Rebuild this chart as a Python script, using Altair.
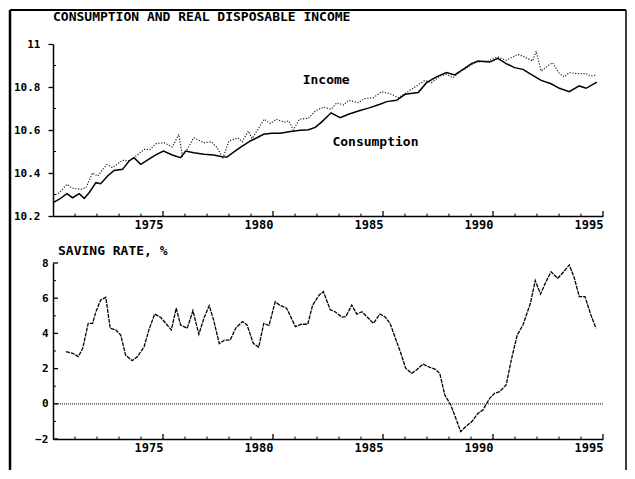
import altair as alt
import pandas as pd

# ---------------- data ----------------
cons_year = [1970.0, 1970.29, 1970.63, 1970.89, 1971.19, 1971.42, 1971.64, 1971.95, 1972.17, 1972.48,
             1972.78, 1973.16, 1973.46, 1973.68, 1973.99, 1974.36, 1974.67, 1975.02, 1975.42, 1975.8,
             1976.03, 1976.4, 1976.86, 1977.3, 1977.69, 1977.91, 1978.21, 1978.55, 1978.97, 1979.27,
             1979.57, 1979.95, 1980.33, 1980.8, 1981.24, 1981.61, 1981.92, 1982.22, 1982.64, 1983.05,
             1983.43, 1983.88, 1984.41, 1984.86, 1985.17, 1985.62, 1986.0, 1986.6, 1986.98, 1987.43,
             1987.88, 1988.26, 1988.64, 1989.02, 1989.32, 1989.85, 1990.22, 1990.6, 1990.98, 1991.36,
             1991.73, 1992.19, 1992.64, 1993.02, 1993.47, 1993.92, 1994.23, 1994.72]
cons_val = [10.262, 10.278, 10.304, 10.285, 10.304, 10.282, 10.308, 10.355, 10.350, 10.386,
            10.412, 10.417, 10.456, 10.471, 10.440, 10.464, 10.484, 10.502, 10.484, 10.471,
            10.502, 10.494, 10.487, 10.484, 10.476, 10.474, 10.497, 10.522, 10.549, 10.564,
            10.580, 10.585, 10.585, 10.593, 10.599, 10.601, 10.612, 10.638, 10.680, 10.657,
            10.673, 10.688, 10.704, 10.720, 10.732, 10.738, 10.766, 10.774, 10.820, 10.847,
            10.867, 10.856, 10.882, 10.909, 10.921, 10.916, 10.933, 10.909, 10.890, 10.882,
            10.859, 10.831, 10.815, 10.794, 10.778, 10.805, 10.794, 10.823]

inc_year = [1970.0, 1970.29, 1970.63, 1970.89, 1971.27, 1971.5, 1971.8, 1972.03, 1972.45, 1972.71,
            1973.16, 1973.42, 1973.68, 1974.14, 1974.4, 1974.67, 1975.05, 1975.42, 1975.72, 1975.88,
            1976.1, 1976.4, 1976.86, 1977.2, 1977.46, 1977.72, 1978.0, 1978.4, 1978.6, 1978.88,
            1979.05, 1979.6, 1979.88, 1980.15, 1980.5, 1980.72, 1980.92, 1981.2, 1981.61, 1981.92,
            1982.3, 1982.64, 1982.9, 1983.2, 1983.43, 1983.88, 1984.15, 1984.56, 1984.94, 1985.32,
            1985.7, 1986.07, 1986.45, 1986.9, 1987.2, 1987.58, 1987.88, 1988.18, 1988.56, 1988.94,
            1989.24, 1989.77, 1990.22, 1990.6, 1991.13, 1991.43, 1991.8, 1991.96, 1992.19, 1992.49,
            1992.71, 1993.02, 1993.24, 1993.47, 1993.85, 1994.23, 1994.45, 1994.72]
inc_val = [10.293, 10.308, 10.347, 10.329, 10.324, 10.332, 10.401, 10.386, 10.440, 10.425,
           10.459, 10.456, 10.471, 10.510, 10.509, 10.536, 10.541, 10.521, 10.580, 10.479,
           10.510, 10.564, 10.541, 10.545, 10.518, 10.468, 10.549, 10.564, 10.545, 10.595,
           10.560, 10.650, 10.630, 10.650, 10.636, 10.642, 10.600, 10.650, 10.655, 10.688,
           10.707, 10.696, 10.727, 10.716, 10.738, 10.727, 10.746, 10.750, 10.778, 10.769,
           10.750, 10.774, 10.800, 10.831, 10.820, 10.851, 10.859, 10.843, 10.874, 10.898,
           10.916, 10.921, 10.940, 10.924, 10.952, 10.940, 10.921, 10.967, 10.874, 10.898,
           10.913, 10.862, 10.847, 10.867, 10.862, 10.862, 10.851, 10.856]

save_year = [1970.59, 1970.89, 1971.15, 1971.35, 1971.6, 1971.8, 1971.95, 1972.17, 1972.4, 1972.6,
             1972.85, 1973.08, 1973.3, 1973.6, 1973.84, 1974.14, 1974.36, 1974.62, 1974.9, 1975.38,
             1975.6, 1975.8, 1976.1, 1976.36, 1976.63, 1976.86, 1977.1, 1977.3, 1977.56, 1977.79,
             1978.05, 1978.32, 1978.62, 1978.82, 1979.1, 1979.35, 1979.58, 1979.82, 1980.1, 1980.3,
             1980.62, 1981.02, 1981.28, 1981.58, 1981.8, 1982.1, 1982.29, 1982.6, 1982.82, 1983.13,
             1983.31, 1983.58, 1983.81, 1984.04, 1984.34, 1984.56, 1984.86, 1985.09, 1985.32, 1985.54,
             1985.81, 1986.03, 1986.3, 1986.52, 1986.82, 1987.13, 1987.38, 1987.58, 1987.81, 1988.08,
             1988.34, 1988.53, 1988.79, 1989.04, 1989.32, 1989.54, 1989.85, 1990.07, 1990.3, 1990.6,
             1990.83, 1991.1, 1991.36, 1991.7, 1991.92, 1992.16, 1992.41, 1992.64, 1992.94, 1993.21,
             1993.47, 1993.7, 1993.92, 1994.18, 1994.45, 1994.68]
save_val = [2.96, 2.87, 2.68, 3.15, 4.57, 4.57, 5.23, 5.90, 6.05, 4.29,
            4.20, 3.90, 2.77, 2.45, 2.68, 3.24, 4.20, 5.10, 4.90, 4.20,
            5.43, 4.48, 4.29, 5.29, 3.95, 4.86, 5.58, 4.76, 3.42, 3.62,
            3.62, 4.33, 4.67, 4.48, 3.44, 3.22, 4.57, 4.45, 5.80, 5.61,
            5.43, 4.38, 4.52, 4.52, 5.60, 6.18, 6.37, 5.35, 5.23, 4.93,
            4.95, 5.61, 5.10, 5.23, 4.86, 4.57, 5.10, 4.95, 4.57, 3.81,
            2.87, 2.02, 1.73, 1.92, 2.26, 2.07, 1.96, 1.73, 0.50, -0.07,
            -0.92, -1.58, -1.26, -1.01, -0.54, -0.35, 0.31, 0.60, 0.69, 1.07,
            2.49, 3.90, 4.48, 5.71, 7.00, 6.24, 6.94, 7.50, 7.13, 7.50,
            7.89, 7.13, 6.09, 6.09, 5.05, 4.29]

x_labels = [1975, 1980, 1985, 1990, 1995]
x_minor = [y for y in range(1971, 1995) if y % 5 != 0]
top_y_ticks = [10.2, 10.4, 10.6, 10.8, 11]
top_y_minor = [10.3, 10.5, 10.7, 10.9]
bot_y_ticks = [-2, 0, 2, 4, 6, 8]
bot_y_minor = [-1, 1, 3, 5, 7]

top_title = "CONSUMPTION AND REAL DISPOSABLE INCOME"
bot_title = "SAVING RATE, %"
line_labels = ["Income", "Consumption"]
label_year = [1981.35, 1982.7]
label_val = [10.833, 10.544]

# ---------------- styling ----------------
FONT = "DejaVu Sans Mono"
W = 550
H1 = 172
H2 = 176
GAP = 47
FRAME_L = -43
FRAME_T = -34
FRAME_R = W + 23
FRAME_B = H1 + GAP + H2 + 31

xscale = alt.Scale(domain=[1970, 1995], nice=False, zero=False)


def x_axis():
    return alt.Axis(values=x_labels, format="d", labelAlign="right", labelBaseline="top",
                    labelPadding=3, ticks=False, grid=False, domainColor="black",
                    domainWidth=1.5, labelFont=FONT, labelFontWeight="bold", labelFontSize=12,
                    labelColor="black", title=None, labelFlush=False, labelOverlap=False)


def x_ticks(height):
    major = alt.Chart(pd.DataFrame({"yr": x_labels})).mark_rule(color="black", strokeWidth=1.3).encode(
        x=alt.X("yr:Q", scale=xscale, axis=x_axis()), y=alt.value(height), y2=alt.value(height - 5))
    minor = alt.Chart(pd.DataFrame({"yr": x_minor})).mark_rule(color="black", strokeWidth=1).encode(
        x=alt.X("yr:Q", scale=xscale, axis=x_axis()), y=alt.value(height), y2=alt.value(height - 2.5))
    return [major, minor]


# ---------------- top panel ----------------
yscale_top = alt.Scale(domain=[10.2, 11], nice=False, zero=False)
top_yaxis = alt.Axis(values=top_y_ticks, labelExpr="'' + datum.value", tickSize=5, tickColor="black",
                     tickWidth=1.3, labelPadding=8, grid=False, domainColor="black", domainWidth=1.5,
                     labelFont=FONT, labelFontWeight="bold", labelFontSize=11, labelColor="black",
                     title=None, labelFlush=False, labelOverlap=False)

cons_df = pd.DataFrame({"yr": cons_year, "v": cons_val})
inc_df = pd.DataFrame({"yr": inc_year, "v": inc_val})

inc_line = alt.Chart(inc_df).mark_line(color="#222", strokeWidth=1.2, strokeDash=[1.2, 1.6]).encode(
    x=alt.X("yr:Q", scale=xscale, axis=x_axis()),
    y=alt.Y("v:Q", scale=yscale_top, axis=top_yaxis))
cons_line = alt.Chart(cons_df).mark_line(color="black", strokeWidth=1.5).encode(
    x=alt.X("yr:Q", scale=xscale, axis=x_axis()), y=alt.Y("v:Q", scale=yscale_top, axis=top_yaxis))

top_minor = alt.Chart(pd.DataFrame({"v": top_y_minor})).mark_rule(color="black").encode(
    y=alt.Y("v:Q", scale=yscale_top, axis=top_yaxis), x=alt.value(0), x2=alt.value(3))

lab_df = pd.DataFrame({"yr": label_year, "v": label_val, "t": line_labels})
labels = alt.Chart(lab_df).mark_text(align="left", baseline="middle", font=FONT, fontWeight="bold",
                                     fontSize=13, color="black").encode(
    x=alt.X("yr:Q", scale=xscale, axis=x_axis()), y=alt.Y("v:Q", scale=yscale_top, axis=top_yaxis),
    text="t:N")

title1 = alt.Chart(pd.DataFrame({"t": [top_title]})).mark_text(
    align="left", baseline="middle", font=FONT, fontWeight="bold", fontSize=13, color="black").encode(
    x=alt.value(0), y=alt.value(-27), text="t:N")

one = pd.DataFrame({"a": [0]})
frame_left = alt.Chart(one).mark_rule(color="black", strokeWidth=2.5).encode(
    x=alt.value(FRAME_L), y=alt.value(FRAME_T), y2=alt.value(FRAME_B))
frame_top = alt.Chart(one).mark_rule(color="black", strokeWidth=2).encode(
    y=alt.value(FRAME_T), x=alt.value(FRAME_L), x2=alt.value(FRAME_R))
frame_right = alt.Chart(one).mark_rule(color="black", strokeWidth=1.5).encode(
    x=alt.value(FRAME_R), y=alt.value(FRAME_T), y2=alt.value(FRAME_B))

top = alt.layer(inc_line, cons_line, top_minor, *x_ticks(H1), labels, title1,
                frame_left, frame_top, frame_right).properties(width=W, height=H1)

# ---------------- bottom panel ----------------
yscale_bot = alt.Scale(domain=[-2, 8], nice=False, zero=False)
bot_yaxis = alt.Axis(values=bot_y_ticks, format="d", ticks=False, labelPadding=5, grid=False,
                     domainColor="black", domainWidth=1.5, labelFont=FONT, labelFontWeight="bold",
                     labelFontSize=11, labelColor="black", title=None, labelFlush=False,
                     labelOverlap=False)

save_df = pd.DataFrame({"yr": save_year, "v": save_val})
save_line = alt.Chart(save_df).mark_line(color="black", strokeWidth=1.3, strokeDash=[4, 1]).encode(
    x=alt.X("yr:Q", scale=xscale, axis=x_axis()),
    y=alt.Y("v:Q", scale=yscale_bot, axis=bot_yaxis))

zero_line = alt.Chart(pd.DataFrame({"v": [0]})).mark_rule(color="#444", strokeWidth=1.2,
                                                           strokeDash=[1, 1]).encode(
    y=alt.Y("v:Q", scale=yscale_bot, axis=bot_yaxis))

bot_major = alt.Chart(pd.DataFrame({"v": bot_y_ticks})).mark_rule(color="black", strokeWidth=1.3).encode(
    y=alt.Y("v:Q", scale=yscale_bot, axis=bot_yaxis), x=alt.value(0), x2=alt.value(5))
bot_minor = alt.Chart(pd.DataFrame({"v": bot_y_minor})).mark_rule(color="black").encode(
    y=alt.Y("v:Q", scale=yscale_bot, axis=bot_yaxis), x=alt.value(0), x2=alt.value(3))

title2 = alt.Chart(pd.DataFrame({"t": [bot_title]})).mark_text(
    align="left", baseline="middle", font=FONT, fontWeight="bold", fontSize=13, color="black").encode(
    x=alt.value(5), y=alt.value(-12), text="t:N")

bottom = alt.layer(zero_line, save_line, bot_major, bot_minor, *x_ticks(H2), title2).properties(
    width=W, height=H2)

chart = alt.vconcat(top, bottom, spacing=GAP, bounds="flush").properties(
    padding=0, background="white").configure_view(stroke=None).configure_axis(
    labelOverlap=False, labelFlush=False, labelBound=False)

chart.save("out.html", embed_options={"renderer": "svg", "actions": False})
